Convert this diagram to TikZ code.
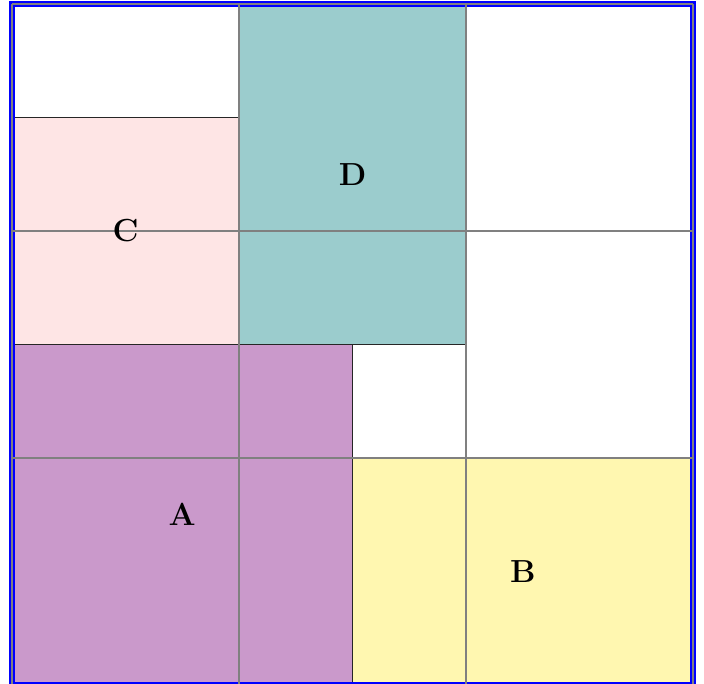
\documentclass[tikz,border=0pt]{standalone}
\begin{document}
\begin{tikzpicture}
\definecolor{cpink}{RGB}{254,229,229}
\definecolor{cteal}{RGB}{155,204,205}
\definecolor{cviolet}{RGB}{202,153,203}
\definecolor{cyellow}{RGB}{255,247,176}
\tikzset{
  region/.style={draw=black!85, line width=0.6pt},
  lbl/.style={font=\large\bfseries, inner sep=0pt},
  gridline/.style={draw=gray, line width=0.7pt},
  frame/.style={draw=blue, line width=2.2pt}
}
\useasboundingbox (-0.159,0.013) rectangle (9.145,9.052);
\fill[white] (-0.159,0.013) rectangle (9.145,9.052);
% regions
\filldraw[region, fill=cviolet] (0,0) rectangle (4.5,4.5);
\filldraw[region, fill=cyellow] (4.5,0) rectangle (9,3);
\filldraw[region, fill=cpink] (0,4.5) rectangle (3,7.5);
\filldraw[region, fill=cteal] (3,4.5) rectangle (6,9);
% frame
\draw[frame] (0,0) rectangle (9,9);
% grid
\draw[gridline] (0,0) grid[step=3] (9,9);
% labels
\node[lbl] (A) at (2.25,2.25) {A};
\node[lbl] (B) at (6.75,1.5) {B};
\node[lbl] (C) at (1.5,6) {C};
\node[lbl] (D) at (4.5,6.75) {D};
\end{tikzpicture}
\end{document}
